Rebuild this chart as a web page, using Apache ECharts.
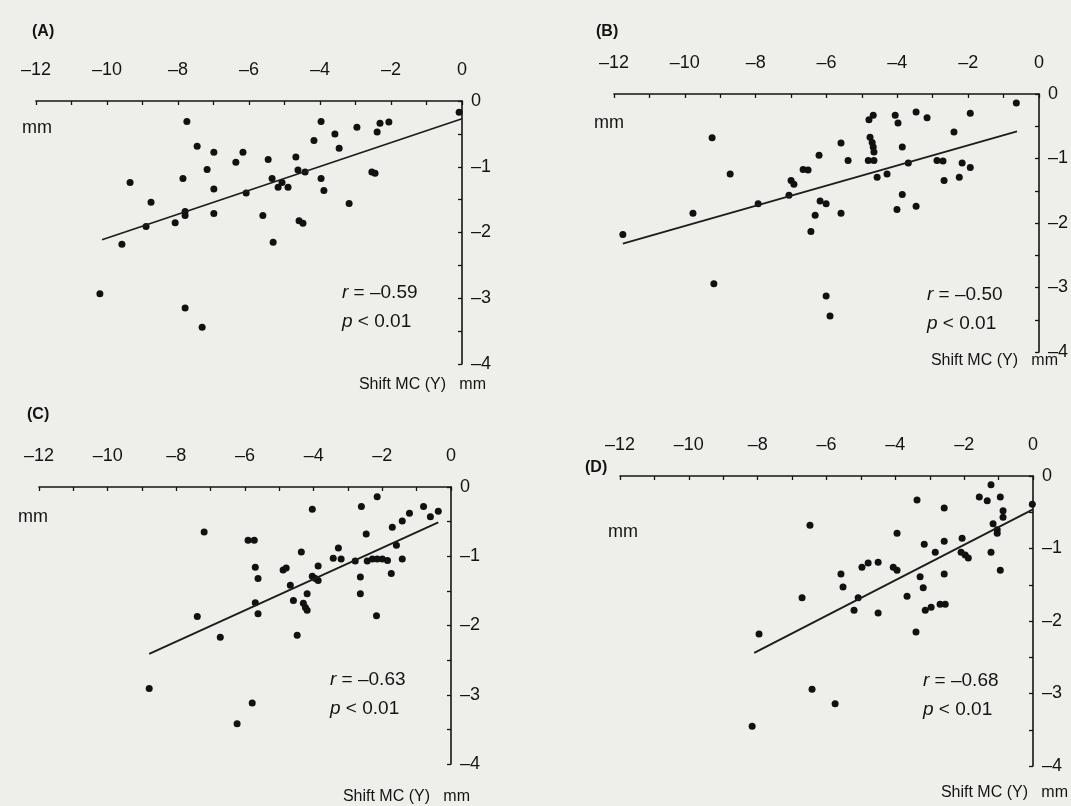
<!DOCTYPE html>
<html>
<head>
<meta charset="utf-8">
<script src="https://cdn.jsdelivr.net/npm/echarts@6/dist/echarts.min.js"></script>
<style>
  html, body { margin: 0; padding: 0; background: #eeeeea; }
  #chart { width: 1071px; height: 806px; }
</style>
</head>
<body>
<div id="chart"></div>
<script>
// Panel A
const xA = [-7.75, -7.46, -6.99, -6.17, -6.37, -7.18, -7.86, -9.35, -6.99, -6.08, -8.76, -7.80, -7.80, -8.08, -8.90, -6.99, -9.58, -10.20, -7.80, -7.32,
  -3.97, -2.96, -2.31, -2.06, -2.39, -3.58, -4.17, -3.46, -0.08, -5.46, -4.68, -4.62, -4.42, -5.35, -5.18, -5.07, -4.90, -3.97, -3.89, -2.54, -2.45, -3.18, -5.61, -4.59, -4.48, -5.32]
const yA = [-0.31, -0.69, -0.78, -0.78, -0.93, -1.04, -1.18, -1.24, -1.34, -1.40, -1.54, -1.68, -1.74, -1.85, -1.91, -1.71, -2.18, -2.93, -3.15, -3.44,
  -0.31, -0.40, -0.34, -0.32, -0.47, -0.50, -0.60, -0.72, -0.17, -0.89, -0.85, -1.05, -1.08, -1.18, -1.31, -1.24, -1.31, -1.18, -1.36, -1.08, -1.10, -1.56, -1.74, -1.82, -1.86, -2.15]
const fitAx = [-10.14, 0]
const fitAy = [-2.11, -0.27]

// Panel B
const xB = [-9.23, -8.72, -6.66, -6.52, -7.00, -6.92, -6.21, -9.77, -11.75, -6.18, -6.01, -6.32, -6.44, -9.18, -7.93, -7.06,
  -0.64, -1.94, -3.47, -3.16, -4.06, -3.98, -4.68, -4.80, -2.40, -4.77, -4.71, -4.68, -4.66, -3.86, -5.59, -5.39, -4.82, -4.66,
  -3.69, -2.88, -2.71, -2.17, -1.94, -4.57, -4.29, -2.68, -2.25, -3.86, -4.01, -3.47, -5.59, -6.01, -5.90]
const yB = [-0.68, -1.24, -1.17, -1.18, -1.34, -1.40, -0.95, -1.85, -2.18, -1.66, -1.70, -1.88, -2.13, -2.94, -1.70, -1.57,
  -0.14, -0.30, -0.28, -0.37, -0.33, -0.45, -0.33, -0.40, -0.59, -0.67, -0.75, -0.82, -0.90, -0.82, -0.76, -1.03, -1.03, -1.03,
  -1.07, -1.03, -1.04, -1.07, -1.14, -1.29, -1.24, -1.34, -1.29, -1.56, -1.79, -1.74, -1.85, -3.13, -3.44]
const fitBx = [-11.75, -0.62]
const fitBy = [-2.32, -0.58]

// Panel C
const xC = [-7.19, -5.91, -5.73, -5.70, -5.62, -5.70, -5.62, -7.39, -6.72, -8.79, -5.79, -6.23,
  -4.04, -2.61, -2.15, -0.80, -0.37, -0.60, -1.21, -1.42, -1.71, -2.47, -4.36, -3.28, -1.59, -3.43, -3.20, -2.79, -2.44, -2.29,
  -2.15, -2.00, -1.85, -1.42, -3.87, -4.89, -4.80, -4.04, -3.95, -3.87, -2.64, -1.74, -4.68, -4.19, -2.64, -4.59, -4.30, -4.24,
  -4.19, -2.17, -4.48]
const yC = [-0.65, -0.77, -0.77, -1.16, -1.32, -1.67, -1.83, -1.87, -2.17, -2.91, -3.12, -3.42,
  -0.32, -0.28, -0.14, -0.28, -0.35, -0.43, -0.38, -0.49, -0.58, -0.68, -0.94, -0.88, -0.84, -1.03, -1.04, -1.07, -1.07, -1.04,
  -1.04, -1.04, -1.06, -1.04, -1.14, -1.20, -1.17, -1.29, -1.32, -1.35, -1.30, -1.25, -1.42, -1.54, -1.54, -1.64, -1.68, -1.74,
  -1.78, -1.86, -2.14]
const fitCx = [-8.79, -0.37]
const fitCy = [-2.41, -0.51]

// Panel D
const xD = [-6.48, -6.71, -7.96, -6.42, -8.16, -1.22, -1.56, -1.33, -0.95, -3.37, -2.58, -0.02, -0.87, -0.87, -1.16, -1.04,
  -1.04, -3.95, -2.58, -2.06, -3.16, -2.84, -2.09, -1.97, -1.88, -1.22, -4.50, -4.79, -4.97, -4.06, -3.95, -0.95, -5.58,
  -3.28, -2.58, -5.52, -3.19, -5.08, -3.66, -5.20, -4.50, -3.13, -2.96, -2.70, -2.55, -3.40, -5.75]
const yD = [-0.68, -1.68, -2.18, -2.94, -3.45, -0.12, -0.29, -0.34, -0.29, -0.33, -0.44, -0.39, -0.48, -0.57, -0.66, -0.74,
  -0.79, -0.79, -0.90, -0.86, -0.94, -1.05, -1.05, -1.09, -1.13, -1.05, -1.19, -1.20, -1.26, -1.26, -1.30, -1.30, -1.35,
  -1.39, -1.35, -1.53, -1.54, -1.68, -1.66, -1.85, -1.89, -1.85, -1.81, -1.77, -1.77, -2.15, -3.14]
const fitDx = [-8.10, 0]
const fitDy = [-2.44, -0.46]

const rValues = ['-0.59', '-0.50', '-0.63', '-0.68']
const panelNames = ['(A)', '(B)', '(C)', '(D)']

const FONT = '"Liberation Sans", Arial, sans-serif'
const INK = '#141414'
const dash = s => String(s).replace('-', '\u2013')
const zip = (xs, ys) => xs.map((x, i) => [x, ys[i]])

// layout of the four panels (px)
const panels = [
  { x: xA, y: yA, fx: fitAx, fy: fitAy, grid: { left: 36, top: 101, width: 426, height: 263 },
    tag: [32, 32], mm: [22, 128], r: [342, 293], shift: [486, 385] },
  { x: xB, y: yB, fx: fitBx, fy: fitBy, grid: { left: 614, top: 94, width: 425, height: 258 },
    tag: [596, 32], mm: [594, 123], r: [927, 295], shift: [1058, 361] },
  { x: xC, y: yC, fx: fitCx, fy: fitCy, grid: { left: 39, top: 487, width: 412, height: 277 },
    tag: [27, 415], mm: [18, 517], r: [330, 680], shift: [470, 797] },
  { x: xD, y: yD, fx: fitDx, fy: fitDy, grid: { left: 620, top: 476, width: 413, height: 290 },
    tag: [585, 468], mm: [608, 532], r: [923, 681], shift: [1068, 793] },
]

const axisLine = { show: true, onZero: false, lineStyle: { color: INK, width: 1.6 } }
const axisTick = { show: true, inside: true, length: 4, lineStyle: { color: INK, width: 1.3 } }

const text = (x, y, str, size, extra = {}) => ({
  type: 'text', x, y,
  style: Object.assign({ text: str, font: `${size}px ${FONT}`, fill: INK, verticalAlign: 'middle' }, extra),
})

const option = {
  backgroundColor: '#eeeeea',
  animation: false,
  grid: panels.map(p => Object.assign({ containLabel: false }, p.grid)),
  xAxis: panels.map((p, i) => ({
    type: 'value', gridIndex: i, position: 'top', min: -12, max: 0, interval: 1,
    axisLine, axisTick, splitLine: { show: false },
    axisLabel: {
      margin: 22, color: INK, fontSize: 18, fontFamily: FONT,
      formatter: v => (v % 2 === 0 ? dash(v) : ''),
    },
  })),
  yAxis: panels.map((p, i) => ({
    type: 'value', gridIndex: i, position: 'right', min: -4, max: 0, interval: 0.5,
    axisLine, axisTick, splitLine: { show: false },
    axisLabel: {
      margin: 9, color: INK, fontSize: 18, fontFamily: FONT,
      formatter: v => (v % 1 === 0 ? dash(v) : ''),
    },
  })),
  series: panels.flatMap((p, i) => [
    {
      type: 'scatter', xAxisIndex: i, yAxisIndex: i, data: zip(p.x, p.y),
      symbolSize: 7, itemStyle: { color: '#111', opacity: 1 },
    },
    {
      type: 'line', xAxisIndex: i, yAxisIndex: i, data: zip(p.fx, p.fy),
      symbol: 'none', lineStyle: { color: '#1c1c1c', width: 1.8 },
    },
  ]),
  graphic: panels.flatMap((p, i) => [
    text(p.tag[0], p.tag[1], panelNames[i], 16, { font: `bold 16px ${FONT}` }),
    text(p.mm[0], p.mm[1], 'mm', 18),
    text(p.r[0], p.r[1], `{i|r} = ${dash(rValues[i])}`, 19, {
      rich: { i: { fontStyle: 'italic', fontSize: 19, fontFamily: FONT, fill: INK } },
    }),
    text(p.r[0], p.r[1] + 29, '{i|p} < 0.01', 19, {
      rich: { i: { fontStyle: 'italic', fontSize: 19, fontFamily: FONT, fill: INK } },
    }),
    text(p.shift[0], p.shift[1], 'Shift MC (Y)   mm', 16, { align: 'right' }),
  ]),
}

const chart = echarts.init(document.getElementById('chart'))
chart.setOption(option)
</script>
</body>
</html>
